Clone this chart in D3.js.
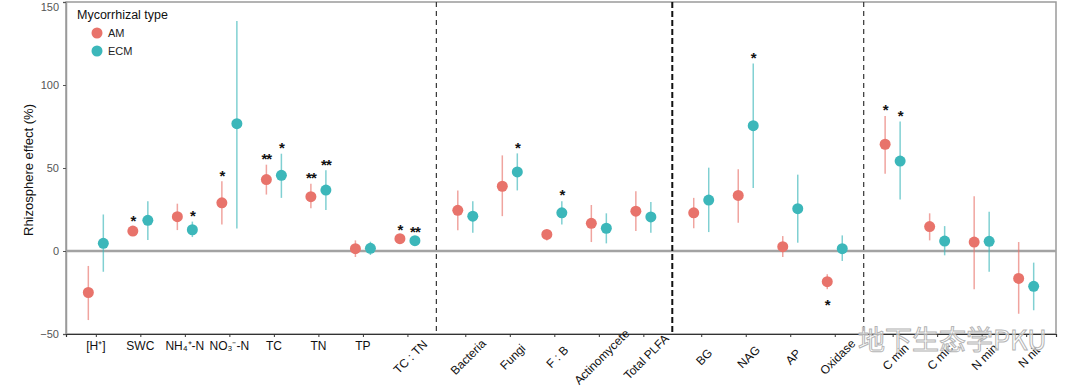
<!DOCTYPE html>
<html>
<head>
<meta charset="utf-8">
<script src="https://cdn.jsdelivr.net/npm/d3@7"></script>
<style>
  body { margin: 0; background: #fff; font-family: "Liberation Sans", Arial, sans-serif; }
</style>
</head>
<body>
<div id="chart"></div>
<script>
// variables along the x axis, with the panel group each belongs to
const categories = ["[H⁺]", "SWC", "NH₄⁺-N", "NO₃⁻-N", "TC", "TN", "TP", "TC : TN",
    "Bacteria", "Fungi", "F : B", "Actinomycete", "Total PLFA",
    "BG", "NAG", "AP", "Oxidase",
    "C min", "C mic", "N min", "N nit"];
const groups = [0, 0, 0, 0, 0, 0, 0, 0, 1, 1, 1, 1, 1, 2, 2, 2, 2, 3, 3, 3, 3];

// AM means and 95% CI
const amMean = [-25, 12, 20.7, 29, 43, 32.7, 1.4, 7.4, 24.5, 39, 10, 16.7, 24, 23, 33.5, 2.6, -18.5, 64.3, 14.7, 5.4, -16.5];
const amLow  = [-41.6, 10, 12.6, 16, 34, 25.7, -3.6, 5.5, 12.5, 21, 6.4, 5.4, 12, 13.7, 17, -3.6, -23, 46.6, 6.4, -23, -37.8];
const amHigh = [-9, 14.5, 28.5, 42, 52, 40.5, 6.4, 9.3, 36.5, 57.6, 13, 27.7, 36, 32, 49.2, 9, -14, 81.3, 22.7, 33, 5.4];
const amSig  = ["", "*", "", "*", "**", "**", "", "*", "", "", "", "", "", "", "", "", "-*", "*", "", "", ""];

// ECM means and 95% CI
const ecmMean = [4.6, 18.5, 12.8, 76.7, 45.6, 36.7, 1.6, 6.2, 21, 47.6, 23, 13.7, 20.5, 30.7, 75.5, 25.5, 1.4, 54.2, 6, 5.8, -21.3];
const ecmLow  = [-12.5, 6.6, 8.4, 13.5, 32, 24.7, -2.4, 4.5, 11, 36.5, 16, 4.6, 11, 11.4, 38, 5, -6, 31, -2.6, -12.5, -35.7];
const ecmHigh = [22, 30, 17.7, 138.5, 58.6, 48.6, 5.6, 8, 30, 58.8, 30, 22.7, 29.5, 50.2, 113, 46, 9.4, 78, 15, 23.7, -7];
const ecmSig  = ["", "", "*", "", "*", "**", "", "**", "", "*", "*", "", "", "", "*", "", "", "*", "", "", ""];

const yTicks = [-50, 0, 50, 100, 150];
const types = ["AM", "ECM"];
const colors = { AM: "#e8736b", ECM: "#3cb7ba" };

const W = 1080, H = 389;
const margin = { top: 2, right: 24, bottom: 55, left: 66 };

const svg = d3.select("#chart").append("svg")
    .attr("width", W)
    .attr("height", H);

// position of each category: index plus a gap for each panel break
const pos = categories.map((c, i) => i + groups[i] * 0.3);

const x = d3.scaleLinear()
    .domain([pos[0] - 0.67, pos[pos.length - 1] + 0.67])
    .range([margin.left, W - margin.right]);

const y = d3.scaleLinear()
    .domain([-50, 150])
    .range([H - margin.bottom, margin.top]);

const dodge = 7.5;

// frame (top + right)
svg.append("rect")
    .attr("x", x.range()[0])
    .attr("y", y.range()[1])
    .attr("width", x.range()[1] - x.range()[0])
    .attr("height", y.range()[0] - y.range()[1])
    .attr("fill", "none")
    .attr("stroke", "#9a9a9a")
    .attr("stroke-width", 1.5);

// zero line
svg.append("line")
    .attr("x1", x.range()[0]).attr("x2", x.range()[1])
    .attr("y1", y(0)).attr("y2", y(0))
    .attr("stroke", "#a3a3a3")
    .attr("stroke-width", 2.5);

// dashed panel separators
const breaks = [];
for (let i = 1; i < categories.length; i++) {
    if (groups[i] !== groups[i - 1]) breaks.push({ at: (pos[i] + pos[i - 1]) / 2, g: groups[i] });
}
svg.append("g").selectAll("line")
    .data(breaks)
    .join("line")
    .attr("x1", d => x(d.at)).attr("x2", d => x(d.at))
    .attr("y1", y.range()[1]).attr("y2", y.range()[0])
    .attr("stroke", d => d.g === 2 ? "#111" : "#333")
    .attr("stroke-width", d => d.g === 2 ? 2 : 1.2)
    .attr("stroke-dasharray", d => d.g === 2 ? "6,3" : "5,4");

// y axis
const yAxis = svg.append("g")
    .attr("transform", `translate(${margin.left},0)`)
    .attr("color", "#555")
    .call(d3.axisLeft(y).tickValues(yTicks).tickSize(3).tickPadding(4));
yAxis.select(".domain").attr("stroke", "#9a9a9a").attr("stroke-width", 1.5);
yAxis.selectAll(".tick text")
    .style("font-size", "11px")
    .style("font-family", "'Liberation Sans', Arial, sans-serif")
    .attr("dy", d => d === 150 ? "0.75em" : "0.32em");

svg.append("text")
    .attr("transform", `translate(28,${(y(-50) + y(150)) / 2 + 2}) rotate(-90)`)
    .attr("text-anchor", "middle")
    .attr("dominant-baseline", "central")
    .style("font-size", "13px")
    .attr("fill", "#111")
    .text("Rhizosphere effect (%)");

// x axis
const xAxis = svg.append("g")
    .attr("transform", `translate(0,${y.range()[0]})`)
    .attr("color", "#333")
    .call(d3.axisBottom(x).tickValues(pos).tickSize(3).tickFormat(""));
xAxis.select(".domain").attr("stroke-width", 1.2);

const labels = svg.append("g")
    .style("font-size", "12px")
    .attr("fill", "#111");
categories.forEach((c, i) => {
    const t = labels.append("text").text(c);
    if (i < 7) {
        t.attr("x", x(pos[i]))
            .attr("y", y.range()[0] + 16)
            .attr("text-anchor", "middle");
    } else {
        t.attr("transform", `translate(${x(pos[i]) + 3},${y.range()[0] + 23}) rotate(-45)`)
            .attr("text-anchor", "middle")
            .attr("dominant-baseline", "central");
    }
});

// series
const series = [
    { type: "AM", mean: amMean, low: amLow, high: amHigh, sig: amSig, off: -dodge },
    { type: "ECM", mean: ecmMean, low: ecmLow, high: ecmHigh, sig: ecmSig, off: dodge }
];

series.forEach(s => {
    const rows = categories.map((c, i) => ({
        x: x(pos[i]) + s.off, mean: s.mean[i], low: s.low[i], high: s.high[i], sig: s.sig[i]
    }));
    const g = svg.append("g");
    g.selectAll("line")
        .data(rows)
        .join("line")
        .attr("x1", d => d.x).attr("x2", d => d.x)
        .attr("y1", d => y(d.low)).attr("y2", d => y(d.high))
        .attr("stroke", colors[s.type])
        .attr("stroke-opacity", 0.65)
        .attr("stroke-width", 1.5);
    g.selectAll("circle")
        .data(rows)
        .join("circle")
        .attr("cx", d => d.x)
        .attr("cy", d => y(d.mean))
        .attr("r", 5.5)
        .attr("fill", colors[s.type]);
    g.selectAll("text")
        .data(rows.filter(d => d.sig))
        .join("text")
        .attr("x", d => d.x)
        .attr("y", d => d.sig.startsWith("-") ? y(d.low) + 13 : y(d.high) - 9)
        .attr("dy", "0.55em")
        .attr("text-anchor", "middle")
        .style("font-size", "15px")
        .style("font-weight", "bold")
        .attr("letter-spacing", "-1px")
        .attr("fill", "#111")
        .text(d => d.sig.replace("-", ""));
});

// legend
const legend = svg.append("g").attr("transform", "translate(77,0)");
legend.append("text")
    .attr("x", 0).attr("y", 19)
    .style("font-size", "12.5px")
    .attr("fill", "#111")
    .text("Mycorrhizal type");
types.forEach((t, i) => {
    legend.append("circle")
        .attr("cx", 20).attr("cy", 33 + i * 18)
        .attr("r", 5.5)
        .attr("fill", colors[t]);
    legend.append("text")
        .attr("x", 31).attr("y", 33 + i * 18)
        .attr("dominant-baseline", "central")
        .style("font-size", "11px")
        .attr("fill", "#222")
        .text(t);
});

// source watermark
svg.append("text")
    .attr("x", 858).attr("y", 350)
    .style("font-family", "'Noto Sans CJK SC', sans-serif")
    .style("font-size", "27px")
    .attr("fill", "#fff")
    .attr("fill-opacity", 0.6)
    .attr("stroke", "#b5b5b5")
    .attr("stroke-width", 1)
    .text("地下生态学PKU");
</script>
</body>
</html>
